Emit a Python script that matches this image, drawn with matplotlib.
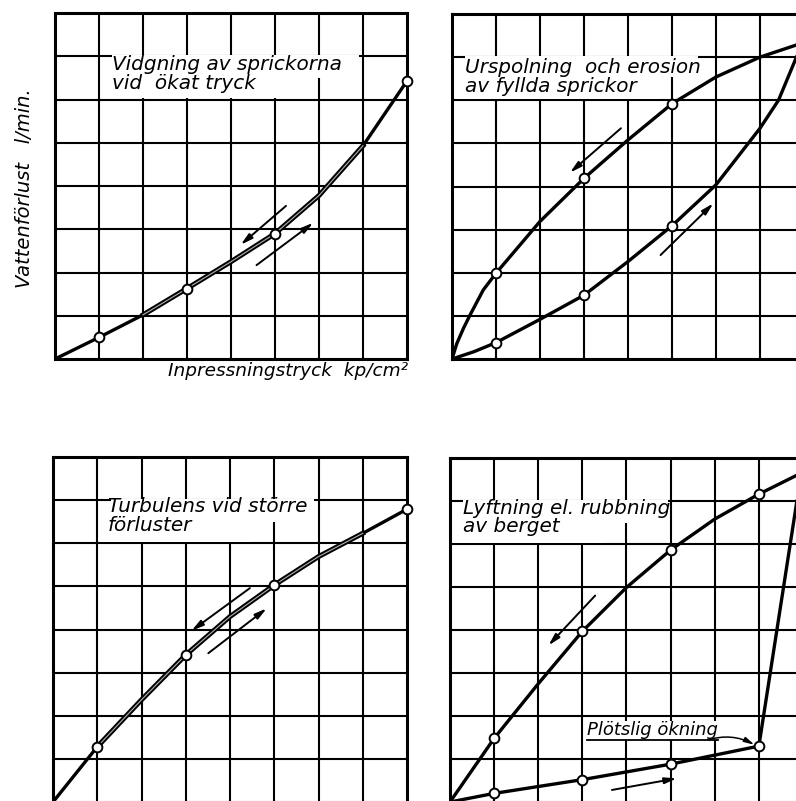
import matplotlib.pyplot as plt
from matplotlib.patches import Rectangle

# panel 1: widening of cracks (up and down paths almost on top of each other)
p1_x = [0, 1, 2, 3, 4, 5, 6, 7, 8]
p1_y = [0, 0.5, 1.02, 1.63, 2.25, 2.9, 3.78, 4.93, 6.43]
p1_pts = [1, 3, 5, 8]

# panel 2: flushing and erosion (hysteresis loop)
p2_down_x = [0, 0.11, 0.26, 0.41, 0.71, 1, 2, 3, 4, 5, 6, 7, 7.97]
p2_down_y = [0, 0.36, 0.71, 1.02, 1.6, 1.99, 3.19, 4.19, 5.08, 5.92, 6.54, 7.0, 7.33]
p2_up_x = [0, 0.5, 1, 2, 3, 4, 5, 6, 7, 7.42, 7.82, 7.97]
p2_up_y = [0, 0.17, 0.38, 0.92, 1.48, 2.26, 3.09, 4.04, 5.35, 6.0, 6.98, 7.33]
p2_down_pts = [1, 3, 5]
p2_up_pts = [1, 3, 5]

# panel 3: turbulence
p3_x = [0, 1, 2, 3, 4, 5, 6, 7, 8]
p3_y = [0, 1.28, 2.37, 3.41, 4.3, 5.03, 5.69, 6.23, 6.79]
p3_pts = [1, 3, 5, 8]

# panel 4: lifting of the rock
p4_down_x = [0, 1, 2, 3, 4, 5, 6, 7, 7.96]
p4_down_y = [0, 1.48, 2.75, 3.97, 4.99, 5.86, 6.58, 7.16, 7.65]
p4_up_x = [0, 1, 3, 5, 7, 7.96]
p4_up_y = [0, 0.2, 0.52, 0.88, 1.3, 7.65]
p4_down_pts = [1, 3, 5, 7]
p4_up_pts = [1, 3, 5, 7]

labels = ["Vidgning av sprickorna\nvid  ökat tryck",
          "Urspolning  och erosion\nav fyllda sprickor",
          "Turbulens vid större\nförluster",
          "Lyftning el. rubbning\nav berget"]
label_pos = [(1.29, 7.02), (0.3, 6.97), (1.24, 7.07), (0.3, 7.05)]
# white patches behind the labels: (x0, x1, y0, y1) per text line
label_boxes = [[(1.3, 6.9, 6.5, 7.03), (1.06, 5.9, 6.03, 6.5)],
               [(0.3, 5.6, 6.55, 7.03), (0.06, 4.7, 6.03, 6.55)],
               [(1.3, 5.9, 6.5, 7.03), (1.06, 4.5, 6.03, 6.5)],
               [(0.3, 4.95, 6.5, 7.03), (0.06, 3.5, 6.03, 6.5)]]

# direction arrows: (start, end)
arrows = [[((5.25, 3.54), (4.22, 2.64)), ((4.58, 2.17), (5.87, 3.15))],
          [((3.84, 5.35), (2.68, 4.32)), ((4.74, 2.41), (5.94, 3.61))],
          [((4.45, 4.96), (3.13, 3.97)), ((3.51, 3.45), (4.83, 4.49))],
          [((3.29, 4.80), (2.23, 3.64)), ((3.67, 0.28), (5.14, 0.55))]]

W, H = 796, 801
panels_px = [(55, 13, 352, 346), (452, 14, 352, 345),
             (53, 457, 354, 345), (450, 458, 353, 344)]

FONT = dict(family='DejaVu Sans', style='italic')


def vals_at(xs, ys, pts):
    return [x for x in pts], [ys[xs.index(x)] for x in pts]


def setup(ax):
    ax.set_xlim(0, 8)
    ax.set_ylim(0, 8)
    ax.set_xticks(range(1, 8))
    ax.set_yticks(range(1, 8))
    ax.tick_params(length=0, labelbottom=False, labelleft=False)
    ax.set_axisbelow(True)
    ax.grid(True, color='black', lw=1.5)
    for s in ax.spines.values():
        s.set_linewidth(2.2)
        s.set_zorder(5)


def curve(ax, xs, ys, double=None):
    ax.plot(xs, ys, color='black', lw=2.4, solid_joinstyle='round',
            solid_capstyle='round', zorder=3)
    if double:
        sx = [x for x in xs if double[0] <= x <= double[1]]
        sy = [ys[xs.index(x)] for x in sx]
        ax.plot(sx, sy, color='black', lw=3.6, solid_joinstyle='round', zorder=3)
        ax.plot(sx, sy, color='#b0b0b0', lw=0.8, solid_joinstyle='round', zorder=3.1)


def markers(ax, xs, ys):
    ax.plot(xs, ys, 'o', ms=7, mfc='white', mec='black', mew=1.4,
            zorder=6, clip_on=False)


def decorate(ax, i):
    for (x0, x1, y0, y1) in label_boxes[i]:
        ax.add_patch(Rectangle((x0, y0), x1 - x0, y1 - y0, facecolor='white',
                               edgecolor='none', zorder=1))
    ax.text(*label_pos[i], labels[i], va='top', ha='left', fontsize=14.4,
            linespacing=0.97, zorder=4, **FONT)
    for (s, e) in arrows[i]:
        ax.annotate('', xy=e, xytext=s, zorder=4,
                    arrowprops=dict(arrowstyle='-|>,head_length=0.7,head_width=0.18',
                                    color='black', lw=1.4, shrinkA=0, shrinkB=0))


fig = plt.figure(figsize=(W / 100, H / 100), dpi=100)
axes = []
for (l, t, w, h) in panels_px:
    ax = fig.add_axes([l / W, 1 - (t + h) / H, w / W, h / H])
    setup(ax)
    axes.append(ax)

ax1, ax2, ax3, ax4 = axes

curve(ax1, p1_x, p1_y, double=(1.5, 7))
markers(ax1, *vals_at(p1_x, p1_y, p1_pts))

curve(ax2, p2_down_x, p2_down_y)
curve(ax2, p2_up_x, p2_up_y)
markers(ax2, *vals_at(p2_down_x, p2_down_y, p2_down_pts))
markers(ax2, *vals_at(p2_up_x, p2_up_y, p2_up_pts))

curve(ax3, p3_x, p3_y, double=(1, 7))
markers(ax3, *vals_at(p3_x, p3_y, p3_pts))

curve(ax4, p4_down_x, p4_down_y)
curve(ax4, p4_up_x, p4_up_y)
markers(ax4, *vals_at(p4_down_x, p4_down_y, p4_down_pts))
markers(ax4, *vals_at(p4_up_x, p4_up_y, p4_up_pts))

for i, ax in enumerate(axes):
    decorate(ax, i)

# sudden increase note, underlined, with a curved pointer to the jump
jump = (p4_up_x[4], p4_up_y[4])
note = ax4.text(3.1, 1.55, "Plötslig ökning", fontsize=13, va='baseline',
                ha='left', zorder=4, **FONT)
note.set_bbox(dict(facecolor='white', edgecolor='none', pad=0.5))
ax4.annotate('', xy=(jump[0] - 0.1, jump[1] + 0.03), xytext=(5.85, 1.45), zorder=4,
             arrowprops=dict(arrowstyle='-|>,head_length=0.6,head_width=0.15',
                             color='black', lw=1.1, shrinkA=0, shrinkB=0,
                             connectionstyle='arc3,rad=-0.2'))
fig.canvas.draw()
bb = note.get_window_extent().transformed(ax4.transData.inverted())
ax4.plot([bb.x0, bb.x1], [1.44, 1.44], color='black', lw=1.3, zorder=4)

fig.text(25 / W, 1 - 188 / H, "Vattenförlust   l/min.", rotation=90,
         ha='center', va='center', fontsize=14, **FONT)
fig.text(408 / W, 1 - 371 / H, "Inpressningstryck  kp/cm²", ha='right',
         va='center', fontsize=13.3, **FONT)

fig.savefig('out.png', dpi=100)
